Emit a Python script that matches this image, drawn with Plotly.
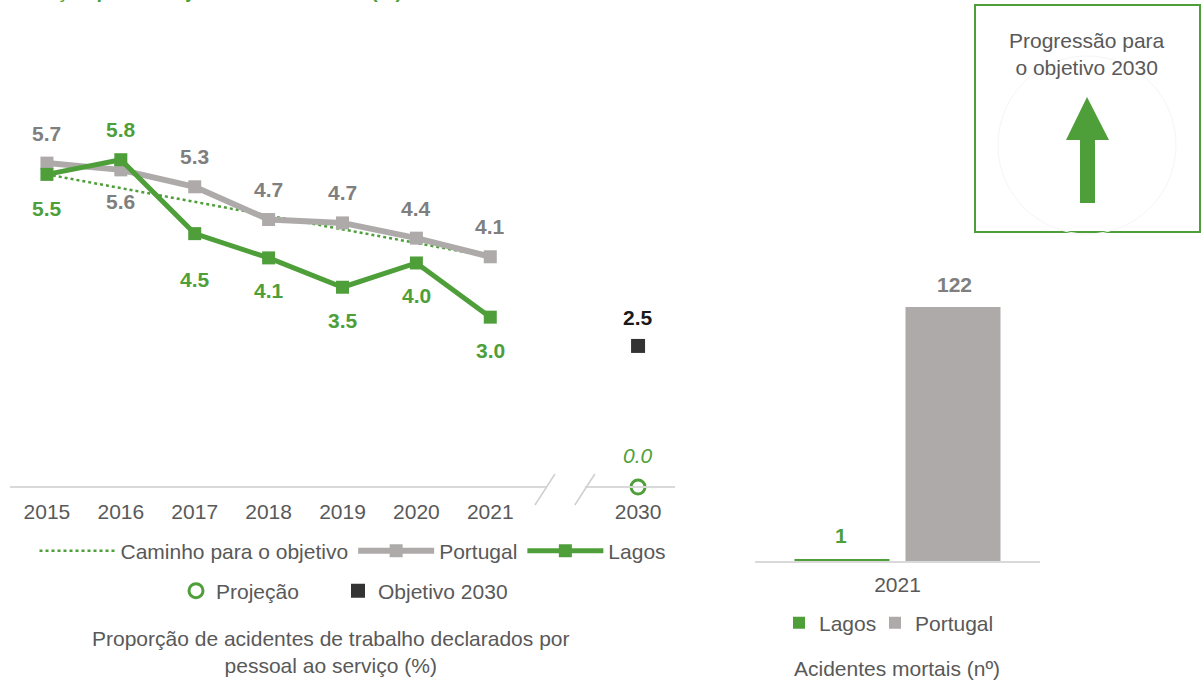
import plotly.graph_objects as go

# ---------------- data ----------------
years = ["2015", "2016", "2017", "2018", "2019", "2020", "2021"]
portugal = [5.74, 5.62, 5.32, 4.74, 4.68, 4.41, 4.08]
lagos = [5.54, 5.80, 4.49, 4.06, 3.54, 3.97, 3.01]
path_years = ["2015", "2021"]
path_values = [5.54, 4.08]
target_year = "2030"
projection = [0.0]
objective = [2.5]
bar_category = ["2021"]
bar_lagos = [1]
bar_portugal = [122]

# ---------------- style ----------------
W, H = 1202, 684
GREEN = "#4E9F3A"
GREY = "#AEAAAA"
LABGREY = "#7F7F7F"
TXT = "#595959"
DARK = "#333333"
FONT = "Liberation Sans, Arial, sans-serif"
FS = 21


def px(x):
    return x / W


def py(y):
    return 1 - y / H


pos = {y: i for i, y in enumerate(years)}
pos[target_year] = 8
xs = [pos[y] for y in years]

XR = [-0.5, 8.5]
XPIX = [10, 675]


def xdata_to_paper(v):
    return px(XPIX[0] + (v - XR[0]) / (XR[1] - XR[0]) * (XPIX[1] - XPIX[0]))


fig = go.Figure()

fig.add_trace(go.Scatter(
    x=[pos[y] for y in path_years], y=path_values, mode="lines",
    line=dict(color=GREEN, width=2.5, dash="dot"),
    name="Caminho para o objetivo", legend="legend", cliponaxis=False))
fig.add_trace(go.Scatter(
    x=xs, y=portugal, mode="lines+markers",
    line=dict(color=GREY, width=6), marker=dict(symbol="square", size=13, color=GREY),
    name="Portugal", legend="legend", cliponaxis=False))
fig.add_trace(go.Scatter(
    x=xs, y=lagos, mode="lines+markers",
    line=dict(color=GREEN, width=5), marker=dict(symbol="square", size=13, color=GREEN),
    name="Lagos", legend="legend", cliponaxis=False))
fig.add_trace(go.Scatter(
    x=[pos[target_year]], y=projection, mode="markers",
    marker=dict(symbol="circle-open", size=14, color=GREEN, line=dict(width=3, color=GREEN)),
    name="Projeção", legend="legend2", cliponaxis=False))
fig.add_trace(go.Scatter(
    x=[pos[target_year]], y=objective, mode="markers",
    marker=dict(symbol="square", size=14, color=DARK),
    name="Objetivo 2030", legend="legend4", cliponaxis=False))

fig.add_trace(go.Bar(
    x=bar_category, y=bar_lagos, name="Lagos", marker_color=GREEN,
    xaxis="x2", yaxis="y2", legend="legend3"))
fig.add_trace(go.Bar(
    x=bar_category, y=bar_portugal, name="Portugal", marker_color=GREY,
    xaxis="x2", yaxis="y2", legend="legend5"))

ann = []
por_shift = [30, -32, 30, 30, 30, 30, 30]
lag_shift = [-34, 30, -46, -33, -33, -33, -33]
for i, y in enumerate(years):
    ann.append(dict(x=pos[y], y=portugal[i], xref="x", yref="y", text=f"{portugal[i]:.1f}",
                    showarrow=False, yshift=por_shift[i], xanchor="center", yanchor="middle",
                    font=dict(family=FONT, size=FS, color=LABGREY, weight="bold")))
    ann.append(dict(x=pos[y], y=lagos[i], xref="x", yref="y", text=f"{lagos[i]:.1f}",
                    showarrow=False, yshift=lag_shift[i], xanchor="center", yanchor="middle",
                    font=dict(family=FONT, size=FS, color=GREEN, weight="bold")))
ann.append(dict(x=pos[target_year], y=objective[0], xref="x", yref="y", text=f"{objective[0]:.1f}",
                showarrow=False, yshift=28, xanchor="center", yanchor="middle",
                font=dict(family=FONT, size=FS, color="#1a1a1a", weight="bold")))
ann.append(dict(x=pos[target_year], y=projection[0], xref="x", yref="y", text=f"<i>{projection[0]:.1f}</i>",
                showarrow=False, yshift=32, xanchor="center", yanchor="middle",
                font=dict(family=FONT, size=FS, color=GREEN)))
cat_index = bar_category.index("2021")
for val, xs_, col in [(bar_lagos[0], -57, GREEN), (bar_portugal[0], 57, LABGREY)]:
    ann.append(dict(x=cat_index, y=val, xref="x2", yref="y2", text=str(val),
                    showarrow=False, yshift=23, xshift=xs_, xanchor="center", yanchor="middle",
                    font=dict(family=FONT, size=FS, color=col, weight="bold")))
ann.append(dict(x=px(330), y=py(652), xref="paper", yref="paper", xanchor="center", yanchor="middle",
                text="Proporção de acidentes de trabalho declarados por<br>pessoal ao serviço (%)",
                showarrow=False, font=dict(family=FONT, size=FS, color=TXT)))
ann.append(dict(x=px(897), y=py(668), xref="paper", yref="paper", xanchor="center", yanchor="middle",
                text="Acidentes mortais (nº)",
                showarrow=False, font=dict(family=FONT, size=FS, color=TXT)))
ann.append(dict(x=px(1087), y=py(54), xref="paper", yref="paper", xanchor="center", yanchor="middle",
                text="Progressão para<br>o objetivo 2030",
                showarrow=False, font=dict(family=FONT, size=FS, color=TXT)))
ann.append(dict(x=0, y=1 - 4 / H, xref="paper", yref="paper", xanchor="left", yanchor="bottom",
                text="Evolução para o objetivo de acidentes (%)",
                showarrow=False, font=dict(family=FONT, size=20, color=GREEN, weight="bold")))

shapes = []
AXC = "#D9D9D9"
yb = py(487)
brk_l = 6.74
brk_r = 7.28
shapes.append(dict(type="line", xref="paper", yref="paper", x0=xdata_to_paper(XR[0]), x1=xdata_to_paper(brk_l) + px(2),
                   y0=yb, y1=yb, line=dict(color=AXC, width=2)))
shapes.append(dict(type="line", xref="paper", yref="paper", x0=xdata_to_paper(brk_r), x1=xdata_to_paper(XR[1]),
                   y0=yb, y1=yb, line=dict(color=AXC, width=2)))
for b in (brk_l, brk_r):
    c = xdata_to_paper(b)
    shapes.append(dict(type="line", xref="paper", yref="paper", x0=c - px(10), x1=c + px(10),
                       y0=py(505), y1=py(474), line=dict(color="#CFCFCF", width=1.5)))
shapes.append(dict(type="rect", xref="paper", yref="paper", x0=px(975), x1=px(1200), y0=py(232), y1=py(5),
                   line=dict(color=GREEN, width=2)))
shapes.append(dict(type="circle", xref="paper", yref="paper", x0=px(998), x1=px(1176), y0=py(234), y1=py(56),
                   line=dict(color="#F5F5F5", width=1)))
arrow = (f"M {px(1087)} {py(97)} L {px(1109)} {py(140)} L {px(1095)} {py(140)} L {px(1095)} {py(203)} "
         f"L {px(1080)} {py(203)} L {px(1080)} {py(140)} L {px(1066)} {py(140)} Z")
shapes.append(dict(type="path", xref="paper", yref="paper", path=arrow, fillcolor=GREEN,
                   line=dict(width=0)))


def small_legend(xpix, ypix):
    return dict(orientation="h", x=px(xpix), xanchor="left", y=py(ypix), yanchor="middle",
                font=dict(size=FS, color=TXT), bgcolor="rgba(0,0,0,0)")


fig.update_layout(
    template="none",
    width=W, height=H, autosize=False,
    margin=dict(l=0, r=0, t=0, b=0, pad=0, autoexpand=False),
    paper_bgcolor="white", plot_bgcolor="rgba(0,0,0,0)",
    font=dict(family=FONT, size=FS, color=TXT),
    showlegend=True,
    barmode="group", bargap=0.221, bargroupgap=0.144,
    xaxis=dict(domain=[px(XPIX[0]), px(XPIX[1])], range=XR, tickmode="array",
               tickvals=xs + [pos[target_year]], ticktext=years + [target_year],
               showgrid=False, zeroline=False, showline=False, ticks="", automargin=False,
               ticklabelstandoff=10, tickfont=dict(size=FS, color=TXT), fixedrange=True),
    yaxis=dict(domain=[py(487), py(92)], range=[0, 7], visible=False, fixedrange=True, automargin=False),
    xaxis2=dict(domain=[px(755), px(1040)], anchor="y2", type="category", range=[-0.5, 0.5],
                showgrid=False, zeroline=False, showline=True, linecolor=AXC, linewidth=2,
                automargin=False, ticks="", ticklabelstandoff=4, tickfont=dict(size=FS, color=TXT),
                fixedrange=True),
    yaxis2=dict(domain=[py(561), py(561 - 130 * 254 / 122)], range=[0, 130], anchor="x2",
                visible=False, automargin=False, fixedrange=True),
    legend=dict(orientation="h", x=px(353), xanchor="center", y=py(551), yanchor="middle",
                itemwidth=76, font=dict(size=FS, color=TXT), bgcolor="rgba(0,0,0,0)",
                traceorder="normal"),
    legend2=small_legend(176, 591),
    legend4=small_legend(338, 591),
    legend3=small_legend(779, 623),
    legend5=small_legend(875, 623),
    annotations=ann, shapes=shapes,
)

fig.write_html("out.html", config={"displayModeBar": False},
               post_script="document.body.style.margin='0';")
